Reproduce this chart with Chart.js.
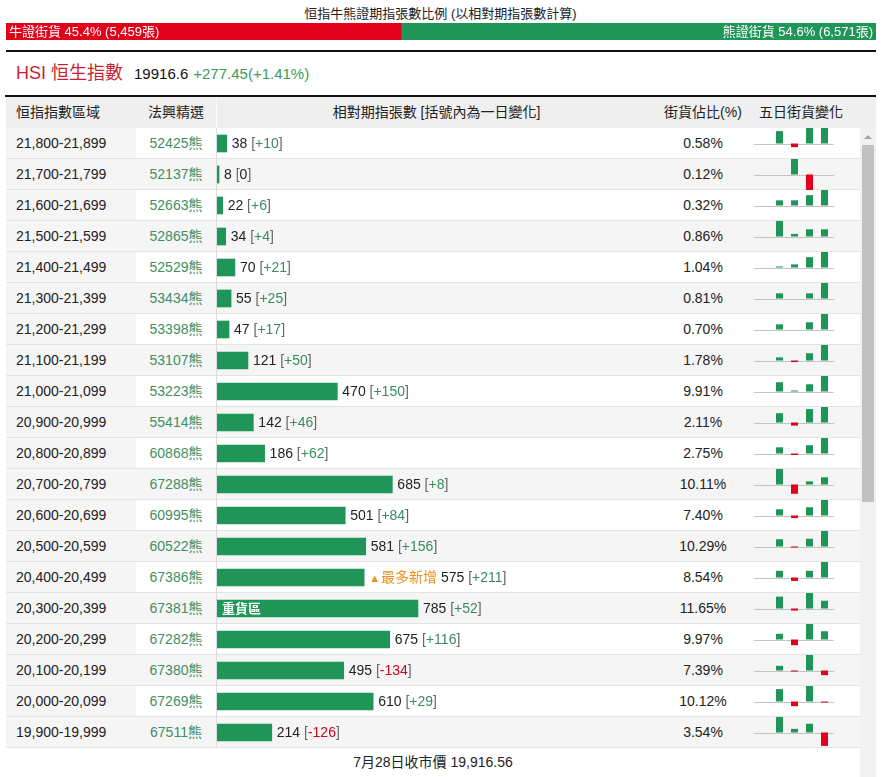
<!DOCTYPE html>
<html>
<head>
<meta charset="utf-8">
<script src="https://cdn.jsdelivr.net/npm/chart.js@4.4.1/dist/chart.umd.min.js"></script>
<style>
body { margin: 0; background: #fff; font-family: "Liberation Sans", "Noto Sans CJK TC", sans-serif; color: #222; }
#page { position: relative; width: 881px; height: 777px; overflow: hidden; }
.abs { position: absolute; }
.hd { position: absolute; top: 97px; height: 31px; line-height: 31px; font-size: 14px; color: #222; }
.cell { position: absolute; height: 31px; line-height: 31px; font-size: 14px; white-space: nowrap; }
canvas { position: absolute; }
</style>
</head>
<body>
<div id="page">
  <div class="abs" id="title" style="left:0;top:6px;width:881px;text-align:center;font-size:13px;line-height:16px;"></div>
  <canvas id="ratioChart" width="870" height="17" style="left:6px;top:23px;"></canvas>
  <div class="abs" style="left:6px;top:50px;width:870px;height:2px;background:#111;"></div>
  <div class="abs" id="hsi" style="left:16px;top:62px;height:22px;line-height:22px;white-space:nowrap;"></div>

  <div class="abs" style="left:5px;top:95px;width:871px;height:2px;background:#111;"></div>
  <div class="abs" style="left:6px;top:97px;width:870px;height:31px;background:#efefef;"></div>
  <div class="abs" style="left:216px;top:97px;width:1px;height:31px;background:#fafafa;"></div>
  <div class="hd" style="left:16px;">恒指指數區域</div>
  <div class="hd" style="left:136px;width:80px;text-align:center;">法興精選</div>
  <div class="hd" style="left:217px;width:439px;text-align:center;">相對期指張數 [括號內為一日變化]</div>
  <div class="hd" style="left:656px;width:94px;text-align:center;">街貨佔比(%)</div>
  <div class="hd" style="left:750px;width:102px;text-align:center;">五日街貨變化</div>

  <div id="rows"></div>
  <canvas id="mainChart" width="439" height="620" style="left:217px;top:128px;"></canvas>
  <div id="minis"></div>

  <div class="abs" id="footer" style="left:6px;top:752px;width:854px;height:20px;line-height:20px;text-align:center;font-size:14px;"></div>

  <div class="abs" style="left:860px;top:128px;width:16px;height:650px;background:#f1f1f1;"></div>
  <div class="abs" style="left:864px;top:135px;width:0;height:0;border-left:4px solid transparent;border-right:4px solid transparent;border-bottom:4px solid #a3a3a3;"></div>
  <div class="abs" style="left:862px;top:145px;width:12px;height:357px;background:#c1c1c1;"></div>
</div>

<script>
const bullCount = 5459;
const bearCount = 6571;
const hsiLast = '19916.6';
const hsiChange = '+277.45';
const hsiPct = '+1.41%';
const closeLabel = '7月28日收市價';
const closePrice = '19,916.56';

const zones = ['21,800-21,899', '21,700-21,799', '21,600-21,699', '21,500-21,599', '21,400-21,499',
  '21,300-21,399', '21,200-21,299', '21,100-21,199', '21,000-21,099', '20,900-20,999',
  '20,800-20,899', '20,700-20,799', '20,600-20,699', '20,500-20,599', '20,400-20,499',
  '20,300-20,399', '20,200-20,299', '20,100-20,199', '20,000-20,099', '19,900-19,999'];
const codes = ['52425熊', '52137熊', '52663熊', '52865熊', '52529熊', '53434熊', '53398熊', '53107熊',
  '53223熊', '55414熊', '60868熊', '67288熊', '60995熊', '60522熊', '67386熊', '67381熊',
  '67282熊', '67380熊', '67269熊', '67511熊'];
const contracts = [38, 8, 22, 34, 70, 55, 47, 121, 470, 142, 186, 685, 501, 581, 575, 785, 675, 495, 610, 214];
const dayChange = [10, 0, 6, 4, 21, 25, 17, 50, 150, 46, 62, 8, 84, 156, 211, 52, 116, -134, 29, -126];
const shares = [0.58, 0.12, 0.32, 0.86, 1.04, 0.81, 0.70, 1.78, 9.91, 2.11, 2.75, 10.11, 7.40, 10.29,
  8.54, 11.65, 9.97, 7.39, 10.12, 3.54];
// five-day change, estimated (relative units per row)
const fiveDay = [
  [0, 12, -3.5, 15, 15],
  [0, 0, 15, -15, 0],
  [0, 5, 5, 10, 15],
  [0, 15, 2.5, 7, 7],
  [0, 1, 3, 10, 15],
  [0, 5, 0, 5, 15],
  [0, 5, 0, 7, 15],
  [0, 3, -1.5, 7, 15],
  [0, 9, 1, 7, 15],
  [0, 9, -3, 13, 15],
  [0, 6, -1.5, 8, 15],
  [0, 15, -9, 3, 7],
  [0, 6, -2.5, 8, 15],
  [0, 7, -1, 7.5, 15],
  [0, 6.5, -3.3, 6.5, 15],
  [0, 11.5, -2, 15, 7.5],
  [0, 5.5, -5.5, 15, 8],
  [0, 4.5, -1, 15, -4.5],
  [0, 12, -4.5, 15, -1],
  [0, 15, 3.5, 8.5, -13]
];

const GREEN = '#1f9658';
const RED = '#e3001b';
const FONT = '"Liberation Sans", "Noto Sans CJK TC", sans-serif';

const bullPct = (bullCount / (bullCount + bearCount) * 100).toFixed(1);
const bearPct = (bearCount / (bullCount + bearCount) * 100).toFixed(1);
const heavyIdx = contracts.indexOf(Math.max(...contracts));
const mostAddIdx = dayChange.indexOf(Math.max(...dayChange));

document.getElementById('title').textContent = '恒指牛熊證期指張數比例 (以相對期指張數計算)';
document.getElementById('hsi').innerHTML =
  '<span style="font-size:18px;color:#cc1f36;">HSI 恒生指數</span>' +
  '<span style="font-size:15px;color:#111;margin-left:11px;">' + hsiLast + '</span>' +
  '<span style="font-size:15px;color:#3b9a5e;margin-left:5px;">' + hsiChange + '(' + hsiPct + ')</span>';
document.getElementById('footer').textContent = closeLabel + ' ' + closePrice;

// table rows
const rowsEl = document.getElementById('rows');
let html = '';
zones.forEach((z, i) => {
  const top = 128 + 31 * i;
  html += '<div class="abs" style="left:6px;top:' + top + 'px;width:854px;height:31px;box-sizing:border-box;' +
    'border-bottom:1px solid #e3e3e3;background:' + (i % 2 ? '#f5f5f5' : '#fff') + ';"></div>';
  html += '<div class="abs" style="left:6px;top:' + top + 'px;width:130px;height:30px;background:#f5f5f5;"></div>';
  html += '<div class="cell" style="left:16px;top:' + top + 'px;color:#222;">' + z + '</div>';
  html += '<div class="cell" style="left:136px;width:80px;text-align:center;top:' + top + 'px;color:#3f8f63;">' + codes[i] + '</div>';
  html += '<div class="cell" style="left:656px;width:94px;text-align:center;top:' + top + 'px;color:#222;">' + shares[i].toFixed(2) + '%</div>';
});
html += '<div class="abs" style="left:216px;top:128px;width:1px;height:620px;background:#dcdcdc;"></div>';
rowsEl.innerHTML = html;

// bull / bear ratio bar
const ratioLabels = {
  id: 'ratioLabels',
  afterDatasetsDraw(chart) {
    const ctx = chart.ctx;
    const bull = chart.getDatasetMeta(0).data[0];
    const bear = chart.getDatasetMeta(1).data[0];
    ctx.save();
    ctx.font = '13px ' + FONT;
    ctx.fillStyle = '#fff';
    ctx.textBaseline = 'middle';
    ctx.textAlign = 'left';
    ctx.fillText('牛證街貨 ' + bullPct + '% (' + bullCount.toLocaleString('en-US') + '張)', bull.base + 3, bull.y + 1);
    ctx.textAlign = 'right';
    ctx.fillText('熊證街貨 ' + bearPct + '% (' + bearCount.toLocaleString('en-US') + '張)', bear.x - 3, bear.y + 1);
    ctx.restore();
  }
};

new Chart(document.getElementById('ratioChart'), {
  type: 'bar',
  data: {
    labels: ['ratio'],
    datasets: [
      { data: [Number(bullPct)], backgroundColor: RED },
      { data: [Number(bearPct)], backgroundColor: GREEN }
    ]
  },
  options: {
    indexAxis: 'y',
    responsive: false,
    animation: false,
    barPercentage: 1,
    categoryPercentage: 1,
    layout: { padding: 0 },
    scales: {
      x: { stacked: true, display: false, min: 0, max: 100 },
      y: { stacked: true, display: false }
    },
    plugins: { legend: { display: false }, tooltip: { enabled: false } }
  },
  plugins: [ratioLabels]
});

// main contracts bars
const barLabels = {
  id: 'barLabels',
  afterDatasetsDraw(chart) {
    const ctx = chart.ctx;
    const meta = chart.getDatasetMeta(0);
    ctx.save();
    ctx.textBaseline = 'middle';
    meta.data.forEach((bar, i) => {
      let x = bar.x + 5;
      const y = bar.y + 1;
      if (i === mostAddIdx) {
        ctx.font = '11px ' + FONT;
        ctx.fillStyle = '#f0901e';
        ctx.fillText('▲', x, y);
        x += ctx.measureText('▲').width + 1;
        ctx.font = '14px ' + FONT;
        ctx.fillText('最多新增 ', x, y);
        x += ctx.measureText('最多新增 ').width;
      }
      ctx.font = '14px ' + FONT;
      const d = dayChange[i];
      const dTxt = d > 0 ? '+' + d : String(d);
      const dCol = d > 0 ? '#3a8b5c' : (d < 0 ? '#d0021b' : '#222');
      [[contracts[i] + ' ', '#222'], ['[', '#666'], [dTxt, dCol], [']', '#666']].forEach(([t, c]) => {
        ctx.fillStyle = c;
        ctx.fillText(t, x, y);
        x += ctx.measureText(t).width;
      });
      if (i === heavyIdx) {
        ctx.font = 'bold 13px ' + FONT;
        ctx.fillStyle = '#fff';
        ctx.fillText('重貨區', bar.base + 5, y);
      }
    });
    ctx.restore();
  }
};

new Chart(document.getElementById('mainChart'), {
  type: 'bar',
  data: {
    labels: zones,
    datasets: [{ data: contracts, backgroundColor: GREEN, barThickness: 17 }]
  },
  options: {
    indexAxis: 'y',
    responsive: false,
    animation: false,
    layout: { padding: 0 },
    scales: {
      x: { display: false, min: 0, max: 1715 },
      y: { display: false }
    },
    plugins: { legend: { display: false }, tooltip: { enabled: false } }
  },
  plugins: [barLabels]
});

// five-day mini charts
const zeroLine = {
  id: 'zeroLine',
  beforeDatasetsDraw(chart) {
    const y = Math.round(chart.scales.y.getPixelForValue(0)) + 0.5;
    const ctx = chart.ctx;
    ctx.save();
    ctx.strokeStyle = '#c4c4c4';
    ctx.lineWidth = 1;
    ctx.beginPath();
    ctx.moveTo(0, y);
    ctx.lineTo(chart.width, y);
    ctx.stroke();
    ctx.restore();
  }
};

const minis = document.getElementById('minis');
fiveDay.forEach((vals, i) => {
  const c = document.createElement('canvas');
  c.width = 80;
  c.height = 31;
  c.style.left = '754px';
  c.style.top = (128 + 31 * i) + 'px';
  minis.appendChild(c);
  const m = Math.max(...vals.map(Math.abs));
  new Chart(c, {
    type: 'bar',
    data: {
      labels: ['1', '2', '3', '4', '5'],
      datasets: [{
        data: vals,
        backgroundColor: vals.map(v => v >= 0 ? GREEN : RED),
        barThickness: 7,
        inflateAmount: 0
      }]
    },
    options: {
      responsive: false,
      animation: false,
      layout: { padding: { left: 3, right: 2, top: 0, bottom: 0 } },
      scales: {
        x: { display: false },
        y: { display: false, min: -m, max: m }
      },
      plugins: { legend: { display: false }, tooltip: { enabled: false } }
    },
    plugins: [zeroLine]
  });
});
</script>
</body>
</html>
